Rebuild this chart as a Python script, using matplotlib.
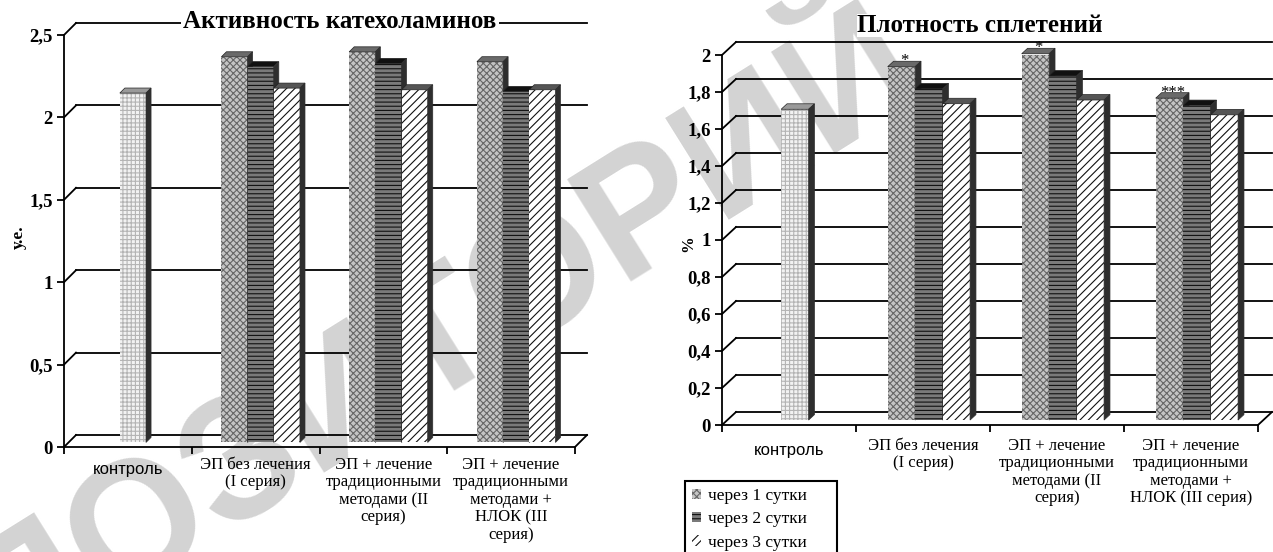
import matplotlib.pyplot as plt
from matplotlib.patches import Polygon, Patch

plt.rcParams['font.family'] = ['Liberation Serif', 'DejaVu Serif']
plt.rcParams['hatch.linewidth'] = 0.8

# --- data -------------------------------------------------------------
series_names = ['через 1 сутки', 'через 2 сутки', 'через 3 сутки']

labels_left = ['контроль',
               'ЭП без лечения\n(I серия)',
               'ЭП + лечение\nтрадиционными\nметодами (II\nсерия)',
               'ЭП + лечение\nтрадиционными\nметодами +\nНЛОК (III\nсерия)']
labels_right = ['контроль',
                'ЭП без лечения\n(I серия)',
                'ЭП + лечение\nтрадиционными\nметодами (II\nсерия)',
                'ЭП + лечение\nтрадиционными\nметодами +\nНЛОК (III серия)']

cat_control = 2.12
cat_day1 = [2.34, 2.37, 2.31]
cat_day2 = [2.28, 2.30, 2.13]
cat_day3 = [2.15, 2.14, 2.14]

plex_control = 1.68
plex_day1 = [1.91, 1.98, 1.74]
plex_day2 = [1.79, 1.86, 1.70]
plex_day3 = [1.71, 1.73, 1.65]
plex_marks = ['*', '*', '***']

# --- figure -----------------------------------------------------------
W, H = 1273, 552
fig = plt.figure(figsize=(W / 100, H / 100), dpi=100)

DAY_STYLES = [
    dict(facecolor='#c4c4c4', edgecolor='#666666', hatch='xxxxx'),
    dict(facecolor='#7a7a7a', edgecolor='#111111', hatch='----'),
    dict(facecolor='white', edgecolor='#111111', hatch='////'),
]
CONTROL_STYLE = dict(facecolor='#f2f2f2', edgecolor='#b4b4b4', hatch='++++')
TOP_FACE = ['#6a6a6a', '#111111', '#555555']
BAR_W = 0.205


def px_axes(left, top, right, bottom):
    return fig.add_axes([left / W, 1 - bottom / H, (right - left) / W, (bottom - top) / H])


def bar3d(ax, x0, h, style, top_color, front, depth):
    fx, fy = front
    dx, dy = depth
    ax.bar(x0 + fx, h, BAR_W, bottom=fy, align='edge', linewidth=0, zorder=3, **style)
    x1 = x0 + fx + BAR_W
    xa = x0 + fx
    ytop = fy + h
    ax.add_patch(Polygon([(xa, ytop), (x1, ytop), (x1 + dx, ytop + dy), (xa + dx, ytop + dy)],
                         closed=True, facecolor=top_color, edgecolor='#222222', lw=0.5,
                         zorder=3, clip_on=False))
    ax.add_patch(Polygon([(x1, fy), (x1 + dx, fy + dy), (x1 + dx, ytop + dy), (x1, ytop)],
                         closed=True, facecolor='#2e2e2e', edgecolor='#2e2e2e', lw=0.5,
                         zorder=3, clip_on=False))


def draw_panel(rect, ymax, step, control, days, labels, wall_px, label_pad):
    left, top, right, bottom = rect
    ax = px_axes(*rect)
    ax.set_xlim(0, 4)
    ax.set_ylim(0, ymax)
    ax.patch.set_visible(False)
    sx = (right - left) / 4
    sy = (bottom - top) / ymax
    DX, DY = wall_px[0] / sx, wall_px[1] / sy

    for s in ['top', 'right']:
        ax.spines[s].set_visible(False)
    for s in ['left', 'bottom']:
        ax.spines[s].set_linewidth(1.3)

    nsteps = int(round(ymax / step))
    yticks = [round(i * step, 2) for i in range(nsteps + 1)]
    ax.set_yticks(yticks)
    ax.set_yticklabels([f'{v:g}'.replace('.', ',') for v in yticks],
                       fontsize=13.5, fontweight='bold')
    ax.tick_params(axis='y', length=5, width=1.3, pad=3)

    # back wall, side wall and floor
    for v in yticks:
        ax.plot([DX, 4 + DX], [v + DY, v + DY], color='black', lw=1.3, zorder=1, clip_on=False)
        ax.plot([0, DX], [v, v + DY], color='black', lw=1.3, zorder=1, clip_on=False)
    ax.plot([4, 4 + DX], [0, DY], color='black', lw=1.3, zorder=1, clip_on=False)

    ax.set_xticks([0, 1, 2, 3, 4])
    ax.set_xticklabels([])
    ax.tick_params(axis='x', length=5, width=1.3)

    for i, lab in enumerate(labels):
        if i == 0:
            kw = dict(family='Liberation Sans', fontsize=12)
            pad = label_pad + 5
        else:
            kw = dict(fontsize=12, linespacing=1.12)
            pad = label_pad
        ax.annotate(lab, (i + 0.5, 0), xycoords=('data', 'axes fraction'),
                    xytext=(0, -pad), textcoords='offset pixels',
                    ha='center', va='top', **kw)

    front = (0.42 * DX, 0.38 * DY)
    depth = (0.42 * DX, 0.42 * DY)
    bar3d(ax, 0.5 - BAR_W / 2, control, CONTROL_STYLE, '#9a9a9a', front, depth)
    for g in range(3):
        for j in range(3):
            x0 = g + 1.5 - 1.5 * BAR_W + j * BAR_W
            bar3d(ax, x0, days[j][g], DAY_STYLES[j], TOP_FACE[j], front, depth)
    return ax, front, depth


# left panel: catecholamine activity
draw_panel((64, 35, 575, 447), 2.5, 0.5, cat_control,
           [cat_day1, cat_day2, cat_day3], labels_left, (12, 12), 10)
fig.text(340 / W, 1 - 22 / H, 'Активность катехоламинов', ha='center', va='center',
         fontsize=18, fontweight='bold',
         bbox=dict(facecolor='white', edgecolor='none', pad=2))
fig.text(19 / W, 1 - 237 / H, 'у.е.', rotation=90, ha='center', va='center',
         fontsize=12.5, fontweight='bold')

# right panel: plexus density
axr, front_r, depth_r = draw_panel((722, 55, 1258, 425), 2.0, 0.2, plex_control,
                                   [plex_day1, plex_day2, plex_day3], labels_right, (14, 13), 13)
for g, mark in enumerate(plex_marks):
    xc = g + 1.5 - BAR_W + front_r[0] + depth_r[0] / 2
    axr.text(xc, plex_day1[g] + front_r[1] + depth_r[1], mark, ha='center', va='center',
             fontsize=12, zorder=5)
fig.text(980 / W, 1 - 25 / H, 'Плотность сплетений', ha='center', va='center',
         fontsize=18, fontweight='bold',
         bbox=dict(facecolor='white', edgecolor='none', pad=0))
fig.text(688 / W, 1 - 244 / H, '%', rotation=90, ha='center', va='center',
         fontsize=12, fontweight='bold')

handles = [Patch(linewidth=0, **st) for st in DAY_STYLES]
leg = fig.legend(handles, series_names, loc='upper left', mode='expand',
                 bbox_to_anchor=(685 / W, 1 - 481 / H - 0.01, 152 / W, 0.01),
                 borderaxespad=0, fontsize=12.5,
                 handlelength=0.55, handleheight=0.55, handletextpad=0.4,
                 borderpad=0.4, labelspacing=0.42, fancybox=False, edgecolor='black',
                 framealpha=1)
leg.get_frame().set_linewidth(1.5)

# repository watermark, kept underneath the charts
fig.text(343 / W, 1 - 400 / H, 'РЕПОЗИТОРИЙ', rotation=32, ha='center', va='center',
         family='Liberation Sans', fontweight='bold', fontsize=125,
         color='#d3d3d3', zorder=-1)

fig.savefig('out.png', dpi=100)
